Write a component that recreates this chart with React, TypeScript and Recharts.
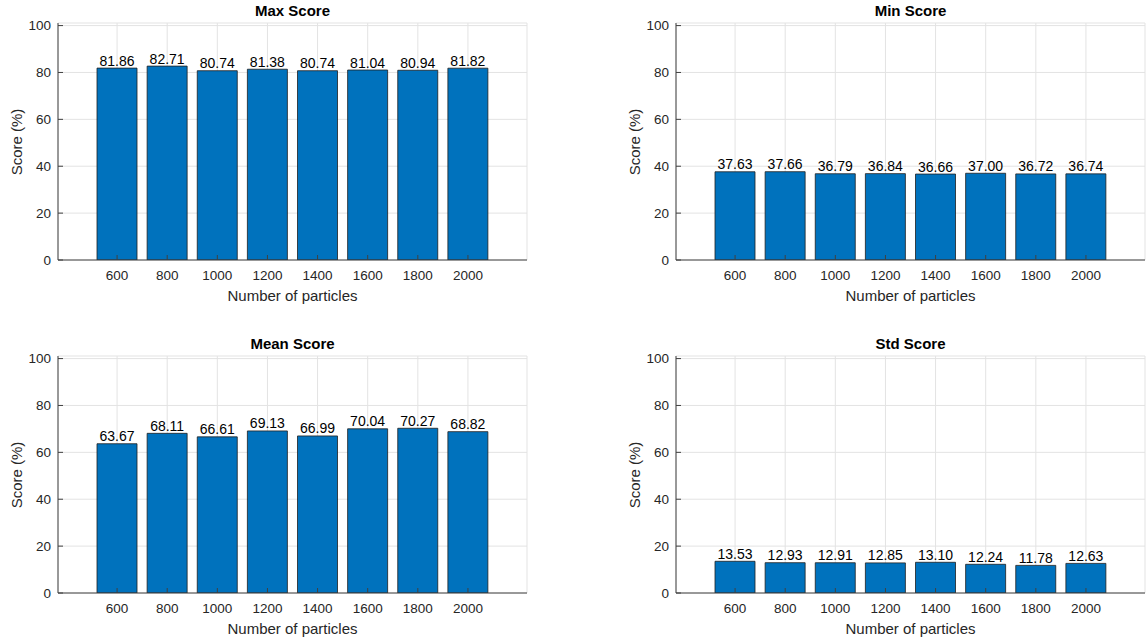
import React from 'react';
import { BarChart, Bar, XAxis, YAxis, CartesianGrid, LabelList } from 'recharts';

// Particle counts tested
const CATEGORIES = ['600', '800', '1000', '1200', '1400', '1600', '1800', '2000'];

// Score statistics (%) per particle count
const MAX_SCORE = [81.86, 82.71, 80.74, 81.38, 80.74, 81.04, 80.94, 81.82];
const MIN_SCORE = [37.63, 37.66, 36.79, 36.84, 36.66, 37.0, 36.72, 36.74];
const MEAN_SCORE = [63.67, 68.11, 66.61, 69.13, 66.99, 70.04, 70.27, 68.82];
const STD_SCORE = [13.53, 12.93, 12.91, 12.85, 13.1, 12.24, 11.78, 12.63];

const Y_TICKS = [0, 20, 40, 60, 80, 100];
const Y_MAX = 101.1;

const TITLES = ['Max Score', 'Min Score', 'Mean Score', 'Std Score'];
const X_LABEL = 'Number of particles';
const Y_LABEL = 'Score (%)';

// layout
const FONT = '"Liberation Sans", Arial, Helvetica, sans-serif';
const PW = 469; // plot width
const PH = 237; // plot height
const YW = 58; // y-axis gutter
const MT = 23; // top margin
const MR = 1;
const XH = 60;
const PAD = 34;
const TICK = 5;
const AXIS_COLOR = '#404040';
const TEXT_COLOR = '#262626';
const BAR_FILL = '#0072BD';
const GRID_COLOR = '#e3e3e3';

const XTick = (props: any) => {
  const { x, y, payload } = props;
  return (
    <g>
      <line x1={x} y1={y} x2={x} y2={y - TICK} stroke={AXIS_COLOR} strokeWidth={1} />
      <text x={x} y={y + 19.5} textAnchor="middle" fontSize={13.5} fontFamily={FONT} fill={TEXT_COLOR}>
        {payload.value}
      </text>
    </g>
  );
};

const TopTick = (props: any) => {
  const { x, y } = props;
  return <line x1={x} y1={y} x2={x} y2={y + TICK} stroke={AXIS_COLOR} strokeWidth={1} />;
};

const YTick = (props: any) => {
  const { x, y, payload } = props;
  return (
    <g>
      <line x1={x} y1={y} x2={x + TICK} y2={y} stroke={AXIS_COLOR} strokeWidth={1} />
      <text x={x - 7} y={y + 4.5} textAnchor="end" fontSize={13.5} fontFamily={FONT} fill={TEXT_COLOR}>
        {payload.value}
      </text>
    </g>
  );
};

const RightTick = (props: any) => {
  const { x, y } = props;
  return <line x1={x} y1={y} x2={x - TICK} y2={y} stroke={AXIS_COLOR} strokeWidth={1} />;
};

const ValueLabel = (props: any) => {
  const { x, y, width, value } = props;
  return (
    <text
      x={Number(x) + Number(width) / 2}
      y={Number(y) - 2.5}
      textAnchor="middle"
      fontSize={14}
      fontFamily={FONT}
      fill="#000"
    >
      {Number(value).toFixed(2)}
    </text>
  );
};

type PanelProps = { title: string; values: number[]; left: number; top: number };

const Panel = ({ title, values, left, top }: PanelProps) => {
  const data = CATEGORIES.map((n, i) => ({ n, v: values[i] }));
  const w = YW + PW + MR;
  const h = MT + PH + XH;
  return (
    <>
      <div
        style={{
          position: 'absolute',
          left,
          top: top - 21,
          width: PW,
          textAlign: 'center',
          fontFamily: FONT,
          fontWeight: 'bold',
          fontSize: 15,
          lineHeight: '18px',
          color: '#000',
        }}
      >
        {title}
      </div>
      <div
        style={{
          position: 'absolute',
          left,
          top: top + PH + 27,
          width: PW,
          textAlign: 'center',
          fontFamily: FONT,
          fontSize: 15,
          lineHeight: '18px',
          color: TEXT_COLOR,
        }}
      >
        {X_LABEL}
      </div>
      <div
        style={{
          position: 'absolute',
          left: left - 41 - 100,
          top: top + PH / 2 - 9,
          width: 200,
          textAlign: 'center',
          fontFamily: FONT,
          fontSize: 15,
          lineHeight: '18px',
          color: TEXT_COLOR,
          transform: 'rotate(-90deg)',
        }}
      >
        {Y_LABEL}
      </div>
      <div style={{ position: 'absolute', left: left - YW, top: top - MT, width: w, height: h }}>
        <BarChart
          width={w}
          height={h}
          data={data}
          margin={{ top: MT, right: MR, bottom: 0, left: 0 }}
          barCategoryGap="10%"
        >
          <CartesianGrid stroke={GRID_COLOR} />
          <Bar
            dataKey="v"
            fill={BAR_FILL}
            stroke="#1f1f1f"
            strokeWidth={0.8}
            isAnimationActive={false}
          >
            <LabelList dataKey="v" content={ValueLabel} />
          </Bar>
          <XAxis
            dataKey="n"
            height={XH}
            padding={{ left: PAD, right: PAD }}
            interval={0}
            tickSize={0}
            tickMargin={0}
            tickLine={false}
            tick={<XTick />}
            axisLine={{ stroke: AXIS_COLOR }}
          />
          <XAxis
            xAxisId="top"
            orientation="top"
            dataKey="n"
            height={0}
            padding={{ left: PAD, right: PAD }}
            interval={0}
            tickSize={0}
            tickMargin={0}
            tickLine={false}
            tick={<TopTick />}
            axisLine={{ stroke: AXIS_COLOR }}
          />
          <YAxis
            width={YW}
            domain={[0, Y_MAX]}
            ticks={Y_TICKS}
            type="number"
            allowDataOverflow
            tickSize={0}
            tickMargin={0}
            tickLine={false}
            tick={<YTick />}
            axisLine={{ stroke: AXIS_COLOR }}
          />
          <YAxis
            yAxisId="right"
            orientation="right"
            width={0}
            domain={[0, Y_MAX]}
            ticks={Y_TICKS}
            type="number"
            allowDataOverflow
            tickSize={0}
            tickMargin={0}
            tickLine={false}
            tick={<RightTick />}
            axisLine={{ stroke: AXIS_COLOR }}
          />
        </BarChart>
      </div>
    </>
  );
};

export default function App() {
  return (
    <div
      style={{
        position: 'absolute',
        left: 0,
        top: 0,
        width: 1147,
        height: 641,
        background: '#fff',
        overflow: 'hidden',
      }}
    >
      <Panel title={TITLES[0]} values={MAX_SCORE} left={58} top={23} />
      <Panel title={TITLES[1]} values={MIN_SCORE} left={676} top={23} />
      <Panel title={TITLES[2]} values={MEAN_SCORE} left={58} top={356} />
      <Panel title={TITLES[3]} values={STD_SCORE} left={676} top={356} />
    </div>
  );
}
